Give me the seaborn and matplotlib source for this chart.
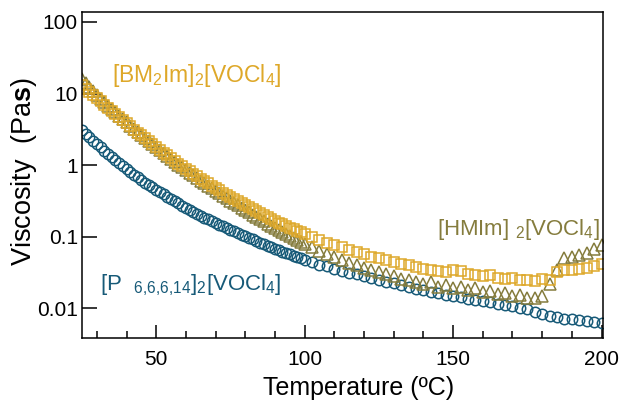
import matplotlib
matplotlib.use("Agg")
import matplotlib.pyplot as plt
import seaborn as sns
import pandas as pd
from matplotlib.ticker import FixedLocator, FixedFormatter, MultipleLocator

temperature = [25, 26.25, 27.5, 28.75, 30, 31.25, 32.5, 33.75, 35, 36.25, 37.5, 38.75, 40,
               41.25, 42.5, 43.75, 45, 46.25, 47.5, 48.75, 50, 51.25, 52.5, 53.75, 55, 56.25,
               57.5, 58.75, 60, 61.25, 62.5, 63.75, 65, 66.25, 67.5, 68.75, 70, 71.25, 72.5,
               73.75, 75, 76.25, 77.5, 78.75, 80, 81.25, 82.5, 83.75, 85, 86.25, 87.5, 88.75,
               90, 91.25, 92.5, 93.75, 95, 96.25, 97.5, 98.75, 100,
               102.5, 105, 107.5, 110, 112.5, 115, 117.5, 120, 122.5, 125, 127.5, 130,
               132.5, 135, 137.5, 140, 142.5, 145, 147.5, 150, 152.5, 155, 157.5, 160, 162.5,
               165, 167.5, 170, 172.5, 175, 177.5, 180, 182.5, 185, 187.5, 190, 192.5, 195,
               197.5, 200]

visc_p66614 = [3.09, 2.75, 2.45, 2.21, 2.00, 1.79, 1.60, 1.44, 1.30, 1.18, 1.07, 0.98, 0.89,
               0.81, 0.74, 0.68, 0.62, 0.57, 0.53, 0.49, 0.45, 0.42, 0.39, 0.36, 0.335, 0.313,
               0.292, 0.272, 0.254, 0.238, 0.224, 0.210, 0.197, 0.186, 0.176, 0.166, 0.157,
               0.148, 0.140, 0.133, 0.126, 0.119, 0.113, 0.107, 0.102, 0.097, 0.092, 0.087,
               0.083, 0.079, 0.075, 0.071, 0.068, 0.065, 0.062, 0.0595, 0.057, 0.0545, 0.052,
               0.050, 0.048,
               0.045, 0.041, 0.0385, 0.036, 0.0335, 0.0316, 0.0299, 0.0282, 0.0266, 0.0251,
               0.0237, 0.0224, 0.0211, 0.0200, 0.0189, 0.0180, 0.0171, 0.0162, 0.0155, 0.0148,
               0.0142, 0.0136, 0.0131, 0.0126, 0.0121, 0.0116, 0.0112, 0.0107, 0.0102, 0.0098,
               0.0089, 0.0083, 0.0079, 0.0075, 0.0072, 0.0070, 0.0068, 0.0066, 0.0064, 0.0062]

visc_hmim = [16.0, 14.1, 12.5, 11.0, 9.6, 8.5, 7.6, 6.8, 6.1, 5.45, 4.9, 4.4, 3.95, 3.55, 3.2,
             2.88, 2.6, 2.36, 2.15, 1.96, 1.78, 1.62, 1.47, 1.34, 1.22, 1.11, 1.02, 0.94, 0.86,
             0.79, 0.72, 0.66, 0.61, 0.56, 0.52, 0.48, 0.44, 0.405, 0.375, 0.347, 0.32, 0.297,
             0.275, 0.255, 0.236, 0.219, 0.203, 0.189, 0.176, 0.164, 0.153, 0.143, 0.133,
             0.124, 0.116, 0.109, 0.102, 0.096, 0.090, 0.085, 0.080,
             0.071, 0.064, 0.057, 0.052, 0.047, 0.043, 0.040, 0.037, 0.034, 0.032, 0.030,
             0.028, 0.026, 0.025, 0.023, 0.022, 0.023, 0.020, 0.021, 0.019, 0.020, 0.018,
             0.019, 0.017, 0.0175, 0.016, 0.0165, 0.015, 0.0155, 0.014, 0.014, 0.015, 0.022,
             0.034, 0.050, 0.052, 0.056, 0.060, 0.068, 0.078]

visc_bm2im = [13.0, 11.7, 10.6, 9.5, 8.6, 7.8, 7.0, 6.3, 5.7, 5.2, 4.7, 4.25, 3.85, 3.48, 3.15,
              2.86, 2.6, 2.36, 2.15, 1.97, 1.80, 1.64, 1.50, 1.37, 1.25, 1.15, 1.05, 0.97, 0.89,
              0.82, 0.76, 0.70, 0.65, 0.60, 0.56, 0.52, 0.48, 0.445, 0.415, 0.386, 0.36, 0.337,
              0.315, 0.294, 0.275, 0.258, 0.242, 0.227, 0.213, 0.200, 0.188, 0.177, 0.167,
              0.158, 0.149, 0.141, 0.134, 0.127, 0.121, 0.115, 0.110,
              0.100, 0.091, 0.083, 0.077, 0.071, 0.066, 0.061, 0.057, 0.053, 0.050, 0.047,
              0.045, 0.042, 0.040, 0.038, 0.036, 0.034, 0.033, 0.032, 0.034, 0.033, 0.030,
              0.029, 0.028, 0.029, 0.027, 0.026, 0.027, 0.025, 0.025, 0.024, 0.026, 0.025,
              0.032, 0.034, 0.034, 0.035, 0.037, 0.039, 0.042]

y_ticks = [0.01, 0.1, 1, 10, 100]
y_tick_labels = ["0.01", "0.1", "1", "10", "100"]
x_major_ticks = [50, 100, 150, 200]

c_blue = "#175a78"
c_olive = "#857c3d"
c_gold = "#dea829"

sns.set_style("white")
plt.rcParams["font.family"] = ["Liberation Sans", "DejaVu Sans"]
plt.rcParams["mathtext.fontset"] = "custom"
plt.rcParams["mathtext.rm"] = "Liberation Sans"
plt.rcParams["mathtext.bf"] = "Liberation Sans:bold"
plt.rcParams["mathtext.default"] = "regular"
for k in ["text.color", "axes.labelcolor", "xtick.color", "ytick.color"]:
    plt.rcParams[k] = "black"

df = pd.DataFrame({"T": temperature, "p": visc_p66614, "h": visc_hmim, "b": visc_bm2im})

fig = plt.figure(figsize=(6.23, 4.09), dpi=100)
ax = fig.add_axes([0.1316, 0.1736, 0.8363, 0.7971])

sns.lineplot(data=df, x="T", y="p", ax=ax, estimator=None, linestyle="none", marker="o",
             markersize=7.5, markerfacecolor="none", markeredgecolor=c_blue,
             markeredgewidth=1.1, color=c_blue)
sns.lineplot(data=df, x="T", y="h", ax=ax, estimator=None, linestyle="none", marker="^",
             markersize=8.5, markerfacecolor="none", markeredgecolor=c_olive,
             markeredgewidth=1.1, color=c_olive)
sns.lineplot(data=df, x="T", y="b", ax=ax, estimator=None, linestyle="none", marker="s",
             markersize=7, markerfacecolor="none", markeredgecolor=c_gold,
             markeredgewidth=1.1, color=c_gold)

ax.set_yscale("log")
ax.set_xlim(25, 200.5)
ax.set_ylim(0.00386, 138)

ax.yaxis.set_major_locator(FixedLocator(y_ticks))
ax.yaxis.set_major_formatter(FixedFormatter(y_tick_labels))
ax.yaxis.set_minor_locator(FixedLocator([]))
ax.xaxis.set_major_locator(FixedLocator(x_major_ticks))
ax.xaxis.set_minor_locator(MultipleLocator(10))

ax.tick_params(axis="y", which="major", direction="in", length=11, width=1.1,
               labelsize=15, pad=3, left=True, right=False)
ax.tick_params(axis="x", which="major", direction="in", length=9.5, width=1.1,
               labelsize=15, pad=8.5, bottom=True, top=False)
ax.tick_params(axis="x", which="minor", direction="in", length=5, width=1.1,
               bottom=True, top=False)

for s in ax.spines.values():
    s.set_visible(True)
    s.set_linewidth(1.1)
    s.set_color("black")

ax.set_xlabel("Temperature (ºC)", fontsize=18)
ax.set_ylabel(r"Viscosity  (Pa$\mathbf{s}$)", fontsize=19.5)
ax.xaxis.set_label_coords(0.53, -0.118)
ax.yaxis.set_label_coords(-0.083, 0.509)

ax.text(0.0576, 0.785, r"[BM$_2$Im]$_2$[VOCl$_4$]", transform=ax.transAxes,
        color=c_gold, fontsize=16.5, ha="left", va="baseline")
ax.text(0.681, 0.316, r"[HMIm] $_2$[VOCl$_4$]", transform=ax.transAxes,
        color=c_olive, fontsize=16, ha="left", va="baseline")
ax.text(0.0345, 0.147, r"[P  $_{6{,}6{,}6{,}14}$]$_2$[VOCl$_4$]", transform=ax.transAxes,
        color=c_blue, fontsize=16, ha="left", va="baseline")

fig.savefig("out.png", dpi=100)
